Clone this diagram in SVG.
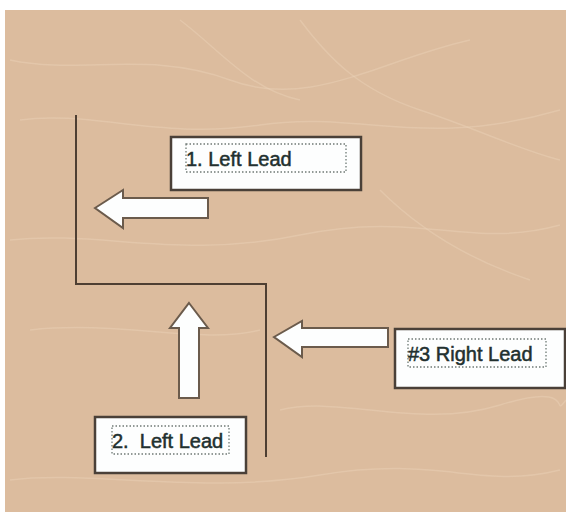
<svg xmlns="http://www.w3.org/2000/svg" width="566" height="514" viewBox="0 0 566 514">
<style>
.bg{fill:#dcbc9e}
.crease{fill:none;stroke:#ecd3b9;stroke-width:1.5;opacity:.45}
.wall{fill:none;stroke:#4e3f33;stroke-width:2}
.box{fill:#fdfefe;stroke:#4a4038;stroke-width:2.5}
.dots{fill:none;stroke:#6f7a76;stroke-width:1.3;stroke-dasharray:1.5 2}
.arrow{fill:#fdfefe;stroke:#6b5b4c;stroke-width:2;stroke-linejoin:miter}
.lbl{font-family:"Liberation Sans",Arial,sans-serif;font-size:20px;fill:#22302f;stroke:#22302f;stroke-width:0.5}
</style>
<rect x="0" y="0" width="566" height="514" fill="#ffffff"/>
<rect class="bg" x="5" y="10" width="561" height="502"/>
<g id="texture">
<path class="crease" d="M10 60 C80 75 150 50 230 80 S380 60 470 40"/>
<path class="crease" d="M20 120 C90 110 160 140 260 125 S420 150 560 110"/>
<path class="crease" d="M300 20 C330 60 360 90 420 110 S520 150 560 160"/>
<path class="crease" d="M10 240 C100 230 180 260 300 235 S470 250 560 225"/>
<path class="crease" d="M30 330 C120 320 200 345 260 330"/>
<path class="crease" d="M280 410 C340 395 420 430 500 405 S550 420 566 400"/>
<path class="crease" d="M10 480 C90 470 200 495 320 475 S480 490 560 470"/>
<path class="crease" d="M380 190 C420 230 470 260 530 280"/>
<path class="crease" d="M180 20 C220 50 250 90 300 100"/>
</g>
<g id="walls">
<polyline class="wall" points="76,115 76,284 266,284 266,457"/>
</g>
<g id="connectors">
<polygon id="arrow1" class="arrow" points="95,208 123,190 123,198 208,198 208,218 123,218 123,228"/>
<polygon id="arrow2" class="arrow" points="189,303 208,328 199,328 199,398 179,398 179,328 170,328"/>
<polygon id="arrow3" class="arrow" points="274,337 302,321 302,328 388,328 388,347 302,347 302,357"/>
</g>
<g id="node1">
<rect class="box" x="171" y="137" width="190" height="53"/>
<rect class="dots" x="186" y="144" width="160" height="28"/>
<text class="lbl" x="186" y="166">1. Left Lead</text>
</g>
<g id="node2">
<rect class="box" x="95" y="417" width="151" height="56"/>
<rect class="dots" x="112" y="426" width="117" height="28"/>
<text class="lbl" x="112" y="448" xml:space="preserve">2.  Left Lead</text>
</g>
<g id="node3">
<rect class="box" x="395" y="329" width="170" height="59"/>
<rect class="dots" x="408" y="339" width="138" height="28"/>
<text class="lbl" x="408" y="361">#3 Right Lead</text>
</g>
</svg>
